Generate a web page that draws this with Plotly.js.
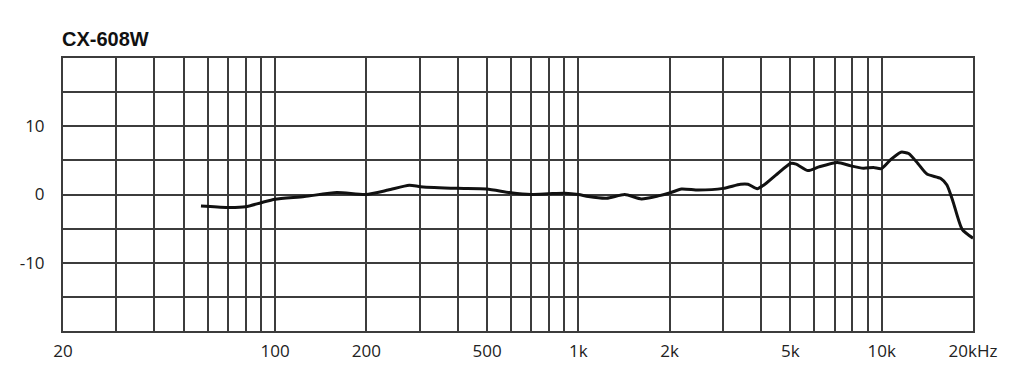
<!DOCTYPE html>
<html>
<head>
<meta charset="utf-8">
<script src="https://cdn.plot.ly/plotly-3.0.1.min.js"></script>
<style>html,body{margin:0;padding:0;background:#fff;}#chart{width:1024px;height:386px;}</style>
</head>
<body>
<div id="chart"></div>
<script>
// Frequency response of CX-608W (Hz, dB)
const freqHz = [57, 69, 80, 90, 100, 125, 160, 199, 236, 277, 302, 399, 498, 599, 698, 795, 903, 1002, 1079, 1240, 1422, 1614, 1836, 2010, 2186, 2486, 3005, 3424, 3625, 3889, 4090, 4477, 5006, 5224, 5713, 6207, 7146, 7919, 8712, 9394, 9980, 10670, 11570, 12270, 13160, 14100, 15660, 16410, 17190, 18420, 20000];
const levelDb = [-1.7, -1.9, -1.8, -1.2, -0.7, -0.3, 0.3, 0.0, 0.65, 1.35, 1.15, 0.9, 0.8, 0.25, 0.0, 0.1, 0.2, 0.0, -0.3, -0.55, 0.0, -0.65, -0.2, 0.25, 0.8, 0.65, 0.9, 1.5, 1.5, 0.85, 1.4, 2.85, 4.55, 4.45, 3.5, 4.05, 4.7, 4.2, 3.85, 3.95, 3.8, 5.05, 6.2, 6.0, 4.55, 3.0, 2.35, 1.4, -1.05, -5.1, -6.4];

const xTickVals = [20, 100, 200, 500, 1000, 2000, 5000, 10000, 20000];
const xTickText = ['20', '100', '200', '500', '1k', '2k', '5k', '10k', '20kHz'];
const xMinorVals = [30, 40, 50, 60, 70, 80, 90, 300, 400, 600, 700, 800, 900, 3000, 4000, 6000, 7000, 8000, 9000];
const yTickVals = [-10, 0, 10];
const yTickText = ['-10', '0', '10'];
const yMinorVals = [-15, -5, 5, 15];
const chartTitle = 'CX-608W';

const gridCol = '#3c3c3c';
const trace = {
  x: freqHz, y: levelDb, type: 'scatter', mode: 'lines',
  line: {color: '#111', width: 3, shape: 'spline', smoothing: 0.6},
  hoverinfo: 'skip'
};
const layout = {
  width: 1024, height: 386,
  margin: {l: 63, r: 51, t: 58, b: 55},
  paper_bgcolor: '#fff', plot_bgcolor: '#fff',
  showlegend: false,
  title: {text: '<b>' + chartTitle + '</b>', x: 62/1024, xanchor: 'left', xref: 'container',
          y: 1 - 38.5/386, yanchor: 'middle', yref: 'container',
          font: {family: 'Liberation Sans, Arial, sans-serif', size: 20, color: '#111'}},
  xaxis: {
    type: 'log', range: [Math.log10(20), Math.log10(20000)],
    tickmode: 'array', tickvals: xTickVals, ticktext: xTickText,
    ticks: '', ticklabelstandoff: 4,
    showgrid: true, gridcolor: gridCol, gridwidth: 2,
    minor: {tickmode: 'array', tickvals: xMinorVals, showgrid: true, gridcolor: gridCol, gridwidth: 2, ticks: ''},
    showline: true, linecolor: gridCol, linewidth: 2, mirror: true,
    zeroline: false,
    tickfont: {family: 'Open Sans, sans-serif', size: 17, color: '#222'}
  },
  yaxis: {
    range: [-20, 20],
    tickmode: 'array', tickvals: yTickVals, ticktext: yTickText,
    ticks: '', ticklabelstandoff: 13,
    showgrid: true, gridcolor: gridCol, gridwidth: 2,
    minor: {tickmode: 'array', tickvals: yMinorVals, showgrid: true, gridcolor: gridCol, gridwidth: 2, ticks: ''},
    showline: true, linecolor: gridCol, linewidth: 2, mirror: true,
    zeroline: false,
    tickfont: {family: 'Open Sans, sans-serif', size: 17, color: '#222'}
  }
};
Plotly.newPlot('chart', [trace], layout, {staticPlot: true, displayModeBar: false});
</script>
</body>
</html>
